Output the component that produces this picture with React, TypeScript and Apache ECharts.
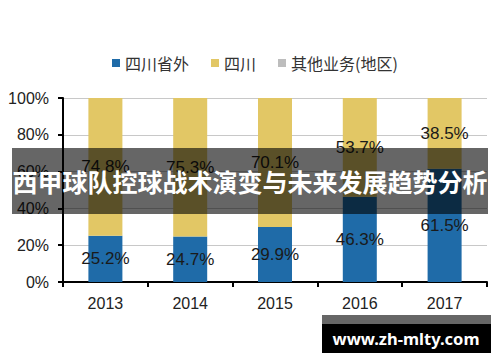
import React, { useEffect, useRef } from "react";
import * as echarts from "echarts";

const categories = ["2013", "2014", "2015", "2016", "2017"];
const outsideSichuan = [25.2, 24.7, 29.9, 46.3, 61.5];
const sichuan = [74.8, 75.3, 70.1, 53.7, 38.5];
const otherBusiness = [0, 0, 0, 0, 0];
const seriesNames = ["四川省外", "四川", "其他业务(地区)"];
const yTicks = { min: 0, max: 100, interval: 20 };
const overlayTitle = "西甲球队控球战术演变与未来发展趋势分析";
const watermark = "www.zh-mlty.com";

export default function App() {
  const ref = useRef<HTMLDivElement>(null);
  useEffect(() => {
    if (!ref.current) return;
    const chart = echarts.init(ref.current, null, { renderer: "svg" });
    const labelStyle = {
      show: true,
      position: "inside" as const,
      color: "#1a1a1a",
      fontSize: 17,
      fontFamily: "Liberation Sans, Arial, sans-serif",
      formatter: (p: any) => p.value.toFixed(1) + "%",
    };
    chart.setOption({
      animation: false,
      backgroundColor: "#ffffff",
      legend: {
        top: 50,
        left: 107,
        itemWidth: 8,
        itemHeight: 8,
        itemGap: 22,
        icon: "rect",
        textStyle: {
          fontSize: 16,
          color: "#333",
          fontFamily: "Noto Sans CJK SC, sans-serif",
        },
        data: seriesNames,
      },
      grid: { left: 63, right: 13, top: 98, bottom: 80, containLabel: false },
      xAxis: {
        type: "category",
        data: categories,
        axisLine: { lineStyle: { color: "#000", width: 2 } },
        axisTick: { show: true, length: 5, lineStyle: { color: "#000", width: 2 } },
        axisLabel: {
          color: "#222",
          fontSize: 16,
          margin: 13,
          fontFamily: "Liberation Sans, Arial, sans-serif",
        },
      },
      yAxis: {
        type: "value",
        min: yTicks.min,
        max: yTicks.max,
        interval: yTicks.interval,
        axisLine: { show: true, lineStyle: { color: "#000", width: 2 } },
        axisTick: { show: true, length: 5, lineStyle: { color: "#000", width: 2 } },
        splitLine: { lineStyle: { color: "#c8c8c8", width: 1 } },
        axisLabel: {
          formatter: "{value}%",
          color: "#222",
          fontSize: 16,
          margin: 14,
          fontFamily: "Liberation Sans, Arial, sans-serif",
        },
      },
      series: [
        {
          name: seriesNames[0],
          type: "bar",
          stack: "total",
          barWidth: 34,
          data: outsideSichuan,
          itemStyle: { color: "#1f6ba8" },
          label: labelStyle,
        },
        {
          name: seriesNames[1],
          type: "bar",
          stack: "total",
          barWidth: 34,
          data: sichuan,
          itemStyle: { color: "#e2c765" },
          label: labelStyle,
        },
        {
          name: seriesNames[2],
          type: "bar",
          stack: "total",
          barWidth: 34,
          data: otherBusiness,
          itemStyle: { color: "#bdbdbd" },
        },
      ],
      graphic: [
        {
          type: "rect",
          left: 12,
          top: 148,
          shape: { width: 476, height: 66 },
          style: { fill: "rgba(0,0,0,0.6)" },
          z: 100,
        },
        {
          type: "text",
          x: 250,
          y: 181,
          style: {
            text: overlayTitle,
            fill: "#ffffff",
            fontSize: 25,
            fontWeight: "bold",
            fontFamily: "Noto Sans CJK SC, sans-serif",
            align: "center",
            verticalAlign: "middle",
          },
          z: 101,
        },
        {
          type: "rect",
          left: 322,
          top: 315,
          shape: { width: 169, height: 10 },
          style: { fill: "#666666" },
          z: 100,
        },
        {
          type: "rect",
          left: 322,
          top: 324,
          shape: { width: 169, height: 29 },
          style: { fill: "#000000" },
          z: 100,
        },
        {
          type: "text",
          x: 406,
          y: 338,
          style: {
            text: watermark,
            fill: "#ffffff",
            fontSize: 16.5,
            fontWeight: "bold",
            fontFamily: "Noto Sans, sans-serif",
            align: "center",
            verticalAlign: "middle",
          },
          z: 101,
        },
      ],
    });
    return () => chart.dispose();
  }, []);
  return (
    <div
      ref={ref}
      style={{ position: "absolute", left: 0, top: 0, width: 500, height: 362 }}
    />
  );
}
